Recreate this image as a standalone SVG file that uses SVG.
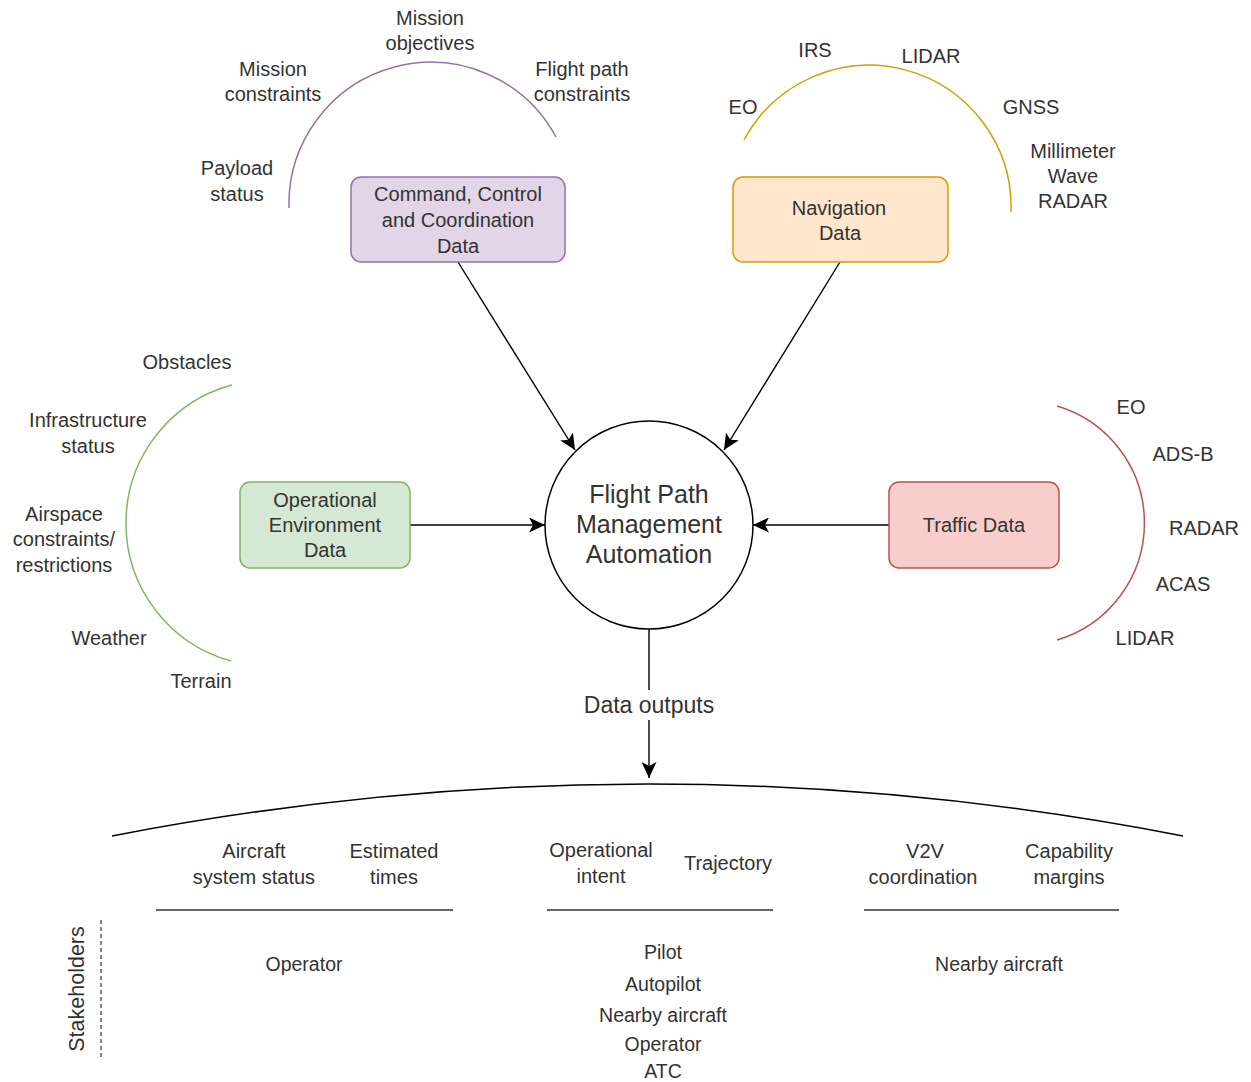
<svg xmlns="http://www.w3.org/2000/svg" width="1251" height="1082" viewBox="0 0 1251 1082">
<style>
text{font-family:"Liberation Sans",Arial,sans-serif;fill:#333;font-size:20px;text-anchor:middle}
.big{font-size:25px}
.mid{font-size:23px}
.sm{font-size:19.5px}
.stk{font-size:21.5px}
.arc{fill:none;stroke-width:1.5}
.conn{fill:none;stroke:#000;stroke-width:1.4}
.rule{stroke:#333;stroke-width:1.6}
</style>
<defs>
<marker id="ah" markerUnits="userSpaceOnUse" markerWidth="17" markerHeight="15" viewBox="0 0 17 15" refX="16" refY="7.5" orient="auto">
<path d="M0,0 L16,7.5 L0,15 L4,7.5 Z" fill="#000"/>
</marker>
</defs>
<rect width="1251" height="1082" fill="#fff"/>

<g id="arcs">
<path class="arc" stroke="#9673a6" d="M289,208 A142,142 0 0 1 556,137"/>
<path class="arc" stroke="#d79b00" d="M744,140 A142,142 0 0 1 1011,212"/>
<path class="arc" stroke="#82b366" d="M232,385 A143,143 0 0 0 231,661"/>
<path class="arc" stroke="#b85450" d="M1057,406 A122,122 0 0 1 1057,640"/>
<path fill="none" stroke="#000" stroke-width="1.5" d="M112,836 Q649,732 1183,836"/>
</g>

<g id="connectors">
<line class="conn" x1="458" y1="262" x2="575" y2="450" marker-end="url(#ah)"/>
<line class="conn" x1="840" y1="262" x2="724" y2="450" marker-end="url(#ah)"/>
<line class="conn" x1="410" y1="525" x2="545" y2="525" marker-end="url(#ah)"/>
<line class="conn" x1="889" y1="525" x2="753" y2="525" marker-end="url(#ah)"/>
<line class="conn" x1="649" y1="629" x2="649" y2="778" marker-end="url(#ah)"/>
<rect x="578" y="690" width="142" height="30" fill="#fff"/>
<text class="mid" x="649" y="713">Data outputs</text>
</g>

<g id="node-command">
<rect x="351" y="177" width="214" height="85" rx="10" fill="#e1d5e7" stroke="#9673a6" stroke-width="1.5"/>
<text x="458" y="201">Command, Control</text>
<text x="458" y="227">and Coordination</text>
<text x="458" y="253">Data</text>
</g>

<g id="node-navigation">
<rect x="733" y="177" width="215" height="85" rx="10" fill="#ffe6cc" stroke="#d79b00" stroke-width="1.5"/>
<text x="839" y="215">Navigation</text>
<text x="840" y="240">Data</text>
</g>

<g id="node-environment">
<rect x="240" y="482" width="170" height="86" rx="10" fill="#d5e8d4" stroke="#82b366" stroke-width="1.5"/>
<text x="325" y="507">Operational</text>
<text x="325" y="532">Environment</text>
<text x="325" y="557">Data</text>
</g>

<g id="node-traffic">
<rect x="889" y="482" width="170" height="86" rx="10" fill="#f8cecc" stroke="#b85450" stroke-width="1.5"/>
<text x="974" y="532">Traffic Data</text>
</g>

<g id="node-fpma">
<circle cx="649" cy="525" r="104" fill="#fff" stroke="#000" stroke-width="1.5"/>
<text class="big" x="649" y="503">Flight Path</text>
<text class="big" x="649" y="533">Management</text>
<text class="big" x="649" y="563">Automation</text>
</g>

<g id="labels-command">
<text x="430" y="25">Mission</text>
<text x="430" y="50">objectives</text>
<text x="273" y="76">Mission</text>
<text x="273" y="101">constraints</text>
<text x="582" y="76">Flight path</text>
<text x="582" y="101">constraints</text>
<text x="237" y="175">Payload</text>
<text x="237" y="201">status</text>
</g>

<g id="labels-navigation">
<text x="815" y="57">IRS</text>
<text x="931" y="63">LIDAR</text>
<text x="743" y="114">EO</text>
<text x="1031" y="114">GNSS</text>
<text x="1073" y="158">Millimeter</text>
<text x="1073" y="183">Wave</text>
<text x="1073" y="208">RADAR</text>
</g>

<g id="labels-environment">
<text x="187" y="369">Obstacles</text>
<text x="88" y="427">Infrastructure</text>
<text x="88" y="453">status</text>
<text x="64" y="521">Airspace</text>
<text x="64" y="546">constraints/</text>
<text x="64" y="572">restrictions</text>
<text x="109" y="645">Weather</text>
<text x="201" y="688">Terrain</text>
</g>

<g id="labels-traffic">
<text x="1131" y="414">EO</text>
<text x="1183" y="461">ADS-B</text>
<text x="1204" y="535">RADAR</text>
<text x="1183" y="591">ACAS</text>
<text x="1145" y="645">LIDAR</text>
</g>

<g id="outputs">
<text x="254" y="858">Aircraft</text>
<text x="254" y="884">system status</text>
<text x="394" y="858">Estimated</text>
<text x="394" y="884">times</text>
<text x="601" y="857">Operational</text>
<text x="601" y="883">intent</text>
<text x="728" y="870">Trajectory</text>
<text x="925" y="858">V2V</text>
<text x="923" y="884">coordination</text>
<text x="1069" y="858">Capability</text>
<text x="1069" y="884">margins</text>
<line class="rule" x1="156" y1="910" x2="453" y2="910"/>
<line class="rule" x1="547" y1="910" x2="773" y2="910"/>
<line class="rule" x1="864" y1="910" x2="1119" y2="910"/>
</g>

<g id="stakeholders">
<text class="stk" transform="translate(84,989) rotate(-90)">Stakeholders</text>
<line x1="101" y1="920" x2="101" y2="1058" stroke="#333" stroke-width="1.2" stroke-dasharray="4,3"/>
<text class="sm" x="304" y="971">Operator</text>
<text class="sm" x="663" y="959">Pilot</text>
<text class="sm" x="663" y="991">Autopilot</text>
<text class="sm" x="663" y="1022">Nearby aircraft</text>
<text class="sm" x="663" y="1051">Operator</text>
<text class="sm" x="663" y="1078">ATC</text>
<text class="sm" x="999" y="971">Nearby aircraft</text>
</g>
</svg>
